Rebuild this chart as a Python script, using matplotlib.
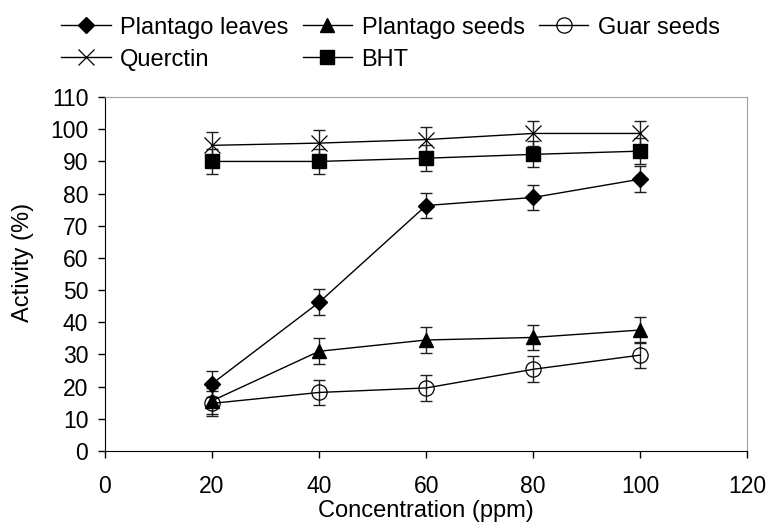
import numpy as np
import matplotlib
matplotlib.use("Agg")
import matplotlib.pyplot as plt

plt.rcParams['font.family'] = ['Liberation Sans', 'DejaVu Sans']

# ===== データ =====
conc = [20, 40, 60, 80, 100]
leaves = [20.9, 46.2, 76.3, 78.8, 84.5]
seeds = [15.6, 31.0, 34.5, 35.3, 37.6]
guar = [14.8, 18.2, 19.6, 25.4, 29.8]
querctin = [95.0, 95.7, 96.8, 98.7, 98.7]
bht = [90.0, 90.0, 91.0, 92.2, 93.2]
err = [4, 4, 4, 4, 4]

series = [
    ("Plantago leaves", leaves, dict(marker='D', markersize=8, mfc='black', mec='black')),
    ("Plantago seeds", seeds, dict(marker='^', markersize=10, mfc='black', mec='black')),
    ("Guar seeds", guar, dict(marker='o', markersize=11, mfc='none', mec='black', mew=0.9)),
    ("Querctin", querctin, dict(marker='x', markersize=11, mec='black', mew=0.9)),
    ("BHT", bht, dict(marker='s', markersize=10, mfc='black', mec='black')),
]

fig = plt.figure(figsize=(7.72, 5.22), dpi=100)
ax = fig.add_axes([0.136, 0.136, 0.832, 0.678])

handles = {}
for name, vals, style in series:
    ax.errorbar(conc, vals, yerr=err, fmt='none', ecolor='#202020',
                elinewidth=1.0, capsize=4.5, capthick=1.0, zorder=2)
    h, = ax.plot(conc, vals, color='black', lw=1.0, label=name, zorder=3, **style)
    handles[name] = h

ax.set_xlim(0, 120)
ax.set_ylim(0, 110)
ax.set_xticks(np.arange(0, 121, 20))
ax.set_yticks(np.arange(0, 111, 10))
ax.tick_params(labelsize=16.5, direction='out', length=5, width=1)
ax.tick_params(axis='y', pad=7)
ax.tick_params(axis='x', pad=12)
ax.set_xlabel('Concentration (ppm)', fontsize=17, labelpad=2)
ax.set_ylabel('Activity (%)', fontsize=17)
ax.yaxis.set_label_coords(-0.11, 0.534)

for s in ['top', 'right']:
    ax.spines[s].set_color('#a0a0a0')
for s in ['left', 'bottom']:
    ax.spines[s].set_color('black')

# 凡例は行方向に並べたいので列優先の順番に並べ替える
order = ["Plantago leaves", "Querctin", "Plantago seeds", "BHT", "Guar seeds"]
fig.legend(handles=[handles[n] for n in order], loc='upper left',
           bbox_to_anchor=(0.079, 0.968),
           ncol=3, frameon=False, fontsize=17, handlelength=2.1,
           handletextpad=0.4, columnspacing=0.6, labelspacing=0.42,
           borderaxespad=0, borderpad=0)

plt.savefig('out.png', dpi=100)
